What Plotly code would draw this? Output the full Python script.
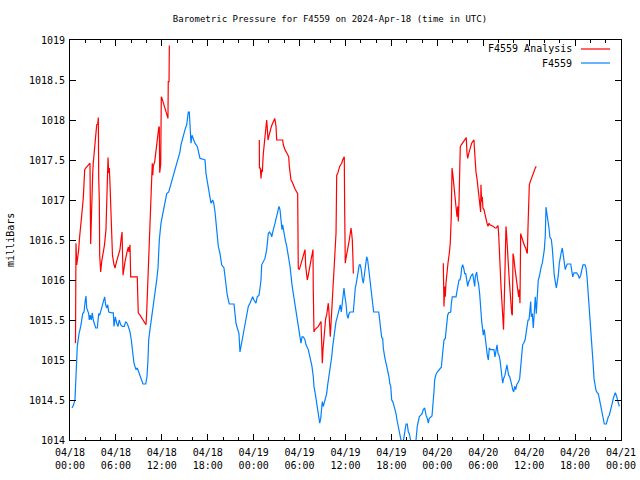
import plotly.graph_objects as go

# ---- F4559 station observations: hours since 2024-04-18 00:00 UTC, pressure in mb
blue_hours = [
    0.26, 0.43, 0.65, 0.78, 0.95, 1.18, 1.40, 1.66, 1.83, 2.00,
    2.09, 2.18, 2.31, 2.44, 2.52, 2.65, 2.78, 2.91, 3.04, 3.18,
    3.36, 3.57, 3.75, 3.88, 4.01, 4.22, 4.40, 4.53, 4.66, 4.80,
    4.93, 5.06, 5.45, 5.66, 5.75, 5.92, 6.10, 6.27, 6.44, 6.62,
    6.83, 7.10, 7.28, 7.45, 7.62, 7.84, 8.01, 8.19, 8.36, 8.62,
    8.79, 8.98, 9.15, 9.32, 9.54, 9.89, 10.06, 10.19, 10.28, 10.45,
    10.62, 10.85, 11.07, 11.33, 11.50, 11.67, 11.89, 12.11, 12.37, 12.64,
    12.90, 13.16, 13.42, 13.59, 13.81, 13.94, 14.15, 14.37, 14.50, 14.73,
    15.03, 15.25, 15.46, 15.59, 15.68, 15.81, 15.94, 16.07, 16.33, 16.63,
    16.82, 16.99, 17.42, 17.64, 17.77, 17.99, 18.16, 18.42, 18.65, 18.78,
    18.95, 19.08, 19.17, 19.38, 19.60, 19.82, 20.12, 20.25, 20.38, 20.55,
    20.74, 20.82, 21.43, 21.56, 21.69, 21.86, 22.08, 22.21, 22.34, 22.51,
    22.64, 22.87, 22.96, 23.09, 23.30, 23.52, 23.74, 23.87, 24.04, 24.30,
    24.47, 24.70, 24.83, 24.96, 25.05, 25.26, 25.48, 25.70, 25.78, 25.91,
    26.04, 26.23, 26.36, 26.49, 26.57, 26.79, 26.92, 27.09, 27.31, 27.44,
    27.57, 27.70, 27.79, 27.96, 28.13, 28.32, 28.45, 28.58, 28.75, 28.88,
    29.01, 29.18, 29.31, 29.44, 29.62, 29.75, 29.88, 30.05, 30.18, 30.32,
    30.49, 30.71, 30.84, 31.14, 31.32, 31.45, 31.62, 31.79, 31.88, 32.05,
    32.24, 32.37, 32.50, 32.63, 32.76, 32.84, 32.97, 33.10, 33.23, 33.36,
    33.54, 33.67, 33.80, 33.93, 34.07, 34.20, 34.33, 34.46, 34.63, 34.76,
    34.93, 35.06, 35.19, 35.32, 35.45, 35.54, 35.67, 35.80, 35.93, 36.06,
    36.20, 36.33, 36.46, 36.59, 37.02, 37.15, 37.28, 37.41, 37.54, 37.67,
    37.80, 37.93, 38.06, 38.19, 38.33, 38.46, 38.59, 38.77, 38.90, 39.03,
    39.16, 39.29, 39.42, 39.55, 39.68, 40.34, 40.47, 40.60, 40.73, 40.86,
    40.94, 41.12, 41.25, 41.38, 41.51, 41.68, 41.78, 41.91, 42.04, 42.17,
    42.30, 42.47, 42.60, 42.73, 42.86, 42.99, 43.12, 43.25, 43.55, 43.74,
    43.91, 44.07, 44.21, 44.34, 44.52, 45.08, 45.21, 45.38, 45.51, 45.64,
    45.83, 46.00, 46.17, 46.35, 46.52, 46.69, 46.82, 46.95, 47.30, 47.43,
    47.56, 47.65, 47.79, 47.99, 48.35, 48.52, 48.65, 48.74, 48.87, 49.04,
    49.13, 49.22, 49.35, 49.48, 49.75, 49.82, 49.95, 50.44, 50.53, 50.70,
    50.83, 50.96, 51.09, 51.18, 51.31, 51.44, 51.58, 51.71, 51.84, 51.97,
    52.10, 52.23, 52.36, 52.49, 52.62, 52.75, 52.88, 52.96, 53.14, 53.27,
    53.40, 53.53, 53.67, 53.80, 53.93, 54.01, 54.14, 54.23, 54.36, 54.53,
    54.66, 54.79, 54.97, 55.40, 55.53, 55.66, 55.80, 55.93, 56.06, 56.19,
    56.32, 56.45, 56.54, 56.67, 56.84, 56.97, 57.10, 57.19, 57.32, 57.46,
    57.59, 57.72, 57.85, 57.98, 58.11, 58.24, 58.37, 58.50, 58.63, 58.76,
    58.89, 59.02, 59.15, 59.28, 59.46, 59.59, 59.72, 59.85, 59.98, 60.11,
    60.20, 60.28, 60.41, 60.54, 60.67, 60.80, 60.93, 61.06, 61.19, 61.32,
    61.45, 61.58, 61.72, 61.85, 61.98, 62.11, 62.20, 62.29, 62.46, 62.59,
    62.72, 62.89, 63.02, 63.15, 63.28, 63.41, 63.55, 63.68, 63.81, 63.94,
    64.07, 64.20, 64.33, 64.46, 64.59, 64.72, 64.85, 64.98, 65.43, 65.56,
    65.69, 65.86, 66.21, 66.42, 66.55, 66.73, 66.86, 67.03, 67.30, 67.43,
    67.56, 67.69, 67.78, 67.86, 67.99, 68.12, 68.25, 68.38, 68.47, 68.60,
    68.73, 68.90, 69.03, 69.16, 69.29, 69.43, 69.56, 69.69, 69.82, 70.08,
    70.21, 70.34, 70.47, 70.60, 70.73, 70.86, 70.99, 71.12, 71.25, 71.38,
    71.52, 71.65, 71.78,
]
blue_mb = [
    1014.40, 1014.43, 1014.50, 1014.90, 1015.17, 1015.33, 1015.42, 1015.58, 1015.60, 1015.75,
    1015.80, 1015.65, 1015.60, 1015.58, 1015.50, 1015.56, 1015.50, 1015.59, 1015.50, 1015.46,
    1015.40, 1015.40, 1015.58, 1015.56, 1015.60, 1015.67, 1015.73, 1015.79, 1015.69, 1015.65,
    1015.69, 1015.60, 1015.59, 1015.59, 1015.42, 1015.54, 1015.46, 1015.42, 1015.50, 1015.44,
    1015.42, 1015.42, 1015.48, 1015.46, 1015.42, 1015.35, 1015.25, 1015.13, 1014.96, 1014.88,
    1014.90, 1014.85, 1014.81, 1014.75, 1014.70, 1014.70, 1014.79, 1015.00, 1015.25, 1015.38,
    1015.50, 1015.63, 1015.75, 1016.00, 1016.15, 1016.50, 1016.71, 1016.83, 1016.94, 1017.08,
    1017.10, 1017.19, 1017.25, 1017.33, 1017.38, 1017.44, 1017.50, 1017.60, 1017.69, 1017.79,
    1017.88, 1017.94, 1018.10, 1018.10, 1017.88, 1017.71, 1017.81, 1017.77, 1017.71, 1017.67,
    1017.60, 1017.52, 1017.51, 1017.50, 1017.33, 1017.21, 1017.08, 1016.96, 1017.00, 1016.96,
    1016.85, 1016.73, 1016.58, 1016.42, 1016.33, 1016.19, 1016.15, 1016.04, 1015.92, 1015.81,
    1015.73, 1015.70, 1015.70, 1015.56, 1015.46, 1015.40, 1015.33, 1015.10, 1015.17, 1015.25,
    1015.29, 1015.42, 1015.50, 1015.56, 1015.67, 1015.71, 1015.77, 1015.79, 1015.75, 1015.71,
    1015.79, 1015.81, 1015.90, 1016.00, 1016.19, 1016.23, 1016.27, 1016.38, 1016.46, 1016.58,
    1016.60, 1016.58, 1016.54, 1016.58, 1016.63, 1016.71, 1016.77, 1016.83, 1016.92, 1016.88,
    1016.71, 1016.63, 1016.69, 1016.58, 1016.50, 1016.42, 1016.31, 1016.27, 1016.17, 1016.00,
    1015.94, 1015.83, 1015.75, 1015.67, 1015.58, 1015.50, 1015.40, 1015.33, 1015.21, 1015.29,
    1015.29, 1015.25, 1015.19, 1015.13, 1015.06, 1015.00, 1014.92, 1014.79, 1014.67, 1014.58,
    1014.46, 1014.35, 1014.27, 1014.21, 1014.27, 1014.40, 1014.48, 1014.42, 1014.46, 1014.52,
    1014.58, 1014.69, 1014.77, 1014.83, 1014.92, 1015.04, 1015.17, 1015.29, 1015.40, 1015.48,
    1015.54, 1015.60, 1015.67, 1015.69, 1015.60, 1015.67, 1015.79, 1015.90, 1015.79, 1015.71,
    1015.56, 1015.52, 1015.58, 1015.60, 1015.60, 1015.79, 1015.90, 1015.96, 1016.04, 1016.15,
    1016.19, 1016.19, 1016.13, 1016.02, 1015.96, 1016.06, 1016.17, 1016.29, 1016.25, 1016.13,
    1016.04, 1015.96, 1015.83, 1015.71, 1015.60, 1015.60, 1015.46, 1015.35, 1015.28, 1015.27,
    1015.15, 1015.04, 1014.98, 1014.92, 1014.88, 1014.79, 1014.71, 1014.67, 1014.50, 1014.48,
    1014.44, 1014.38, 1014.33, 1014.25, 1014.19, 1014.13, 1014.06, 1014.00, 1013.98, 1014.10,
    1014.20, 1014.20, 1014.10, 1014.08, 1013.99, 1013.98, 1014.00, 1014.17, 1014.25, 1014.29,
    1014.31, 1014.33, 1014.38, 1014.40, 1014.31, 1014.27, 1014.21, 1014.27, 1014.30, 1014.42,
    1014.60, 1014.75, 1014.81, 1014.85, 1014.90, 1014.91, 1015.04, 1015.19, 1015.25, 1015.27,
    1015.38, 1015.42, 1015.56, 1015.59, 1015.60, 1015.69, 1015.79, 1015.79, 1015.85, 1015.94,
    1016.00, 1016.00, 1016.06, 1016.15, 1016.19, 1016.15, 1016.08, 1016.08, 1016.00, 1015.92,
    1015.98, 1016.00, 1016.04, 1016.06, 1016.08, 1016.00, 1015.92, 1016.04, 1016.10, 1016.00,
    1015.94, 1015.83, 1015.60, 1015.48, 1015.38, 1015.31, 1015.38, 1015.29, 1015.19, 1015.06,
    1015.00, 1015.15, 1015.13, 1015.13, 1015.04, 1015.13, 1015.19, 1015.08, 1015.06, 1015.00,
    1014.90, 1014.79, 1014.71, 1014.77, 1014.81, 1014.88, 1014.94, 1014.88, 1014.81, 1014.79,
    1014.75, 1014.69, 1014.63, 1014.60, 1014.67, 1014.63, 1014.69, 1014.71, 1014.73, 1014.77,
    1014.90, 1015.04, 1015.19, 1015.21, 1015.25, 1015.33, 1015.46, 1015.50, 1015.50, 1015.63,
    1015.73, 1015.54, 1015.58, 1015.40, 1015.65, 1015.79, 1015.58, 1015.81, 1016.00, 1016.04,
    1016.13, 1016.17, 1016.21, 1016.28, 1016.38, 1016.56, 1016.91, 1016.85, 1016.75, 1016.65,
    1016.53, 1016.51, 1016.40, 1016.21, 1016.06, 1015.98, 1015.90, 1015.98, 1016.06, 1016.21,
    1016.31, 1016.35, 1016.40, 1016.29, 1016.19, 1016.13, 1016.17, 1016.20, 1016.20, 1016.13,
    1016.04, 1016.09, 1016.09, 1016.06, 1016.02, 1016.06, 1016.13, 1016.19, 1016.19, 1016.15,
    1016.04, 1015.88, 1015.77, 1015.63, 1015.46, 1015.25, 1015.10, 1014.92, 1014.77, 1014.67,
    1014.62, 1014.59, 1014.58, 1014.52, 1014.46, 1014.38, 1014.29, 1014.23, 1014.20, 1014.20,
    1014.27, 1014.29, 1014.31, 1014.35, 1014.42, 1014.46, 1014.52, 1014.56, 1014.59, 1014.56,
    1014.52, 1014.48, 1014.42,
]

# ---- F4559 Analysis: three separate runs
red_hours_a = [
    0.72, 0.78, 0.88, 1.01, 1.14, 1.22, 1.40, 1.57, 1.66, 1.74,
    1.83, 1.92, 2.05, 2.26, 2.44, 2.61, 2.70, 2.78, 2.87, 2.97,
    3.04, 3.18, 3.31, 3.40, 3.49, 3.62, 3.70, 3.75, 3.83, 3.88,
    4.01, 4.14, 4.27, 4.35, 4.51, 4.70, 4.84, 4.97, 5.06, 5.14,
    5.23, 5.32, 5.40, 5.55, 5.75, 5.88, 6.08, 6.27, 6.53, 6.66,
    6.80, 6.93, 7.06, 7.19, 7.45, 7.62, 7.71, 7.84, 7.93, 8.79,
    8.85, 8.92, 9.15, 9.58, 9.93, 10.02, 10.15, 10.23, 10.36, 10.55,
    10.62, 10.67, 10.75, 10.82, 10.88, 11.07, 11.20, 11.28, 11.37, 11.50,
    11.59, 11.67, 11.72, 11.85, 11.93, 12.02, 12.15, 12.28, 12.41, 12.54,
    12.67, 12.80, 12.84, 12.94, 12.98,
]
red_mb_a = [
    1015.21, 1016.46, 1016.19, 1016.28, 1016.38, 1016.50, 1016.65, 1016.84, 1016.94, 1017.03,
    1017.25, 1017.38, 1017.40, 1017.42, 1017.44, 1017.46, 1016.45, 1016.81, 1017.00, 1017.34,
    1017.46, 1017.59, 1017.71, 1017.84, 1017.94, 1017.95, 1018.03, 1017.28, 1017.00, 1016.31,
    1016.10, 1016.23, 1016.30, 1016.38, 1016.44, 1016.63, 1017.13, 1017.53, 1017.34, 1017.40,
    1017.19, 1017.00, 1016.63, 1016.31, 1016.19, 1016.15, 1016.23, 1016.31, 1016.38, 1016.50,
    1016.60, 1016.06, 1016.15, 1016.23, 1016.35, 1016.41, 1016.35, 1016.44, 1016.04, 1016.04,
    1015.81, 1015.59, 1015.56, 1015.50, 1015.44, 1015.59, 1015.91, 1016.28, 1016.59, 1016.85,
    1017.00, 1017.31, 1017.46, 1017.31, 1017.42, 1017.48, 1017.58, 1017.67, 1017.77, 1017.83,
    1017.90, 1017.92, 1017.34, 1017.44, 1018.29, 1018.27, 1018.23, 1018.19, 1018.15, 1018.10,
    1018.06, 1018.02, 1018.48, 1018.48, 1018.93,
]
red_hours_b = [
    24.74, 24.75, 24.87, 24.96, 25.05, 25.13, 25.26, 25.39, 25.52, 25.61,
    25.70, 25.78, 25.87, 25.96, 26.04, 26.13, 26.26, 26.40, 26.53, 26.66,
    26.75, 26.83, 26.92, 27.01, 27.79, 27.87, 28.00, 28.13, 28.32, 28.45,
    28.58, 28.66, 28.75, 28.88, 29.01, 29.10, 29.27, 29.44, 29.62, 29.75,
    29.83, 29.96, 30.15, 30.32, 30.49, 30.62, 30.71, 30.80, 30.93, 31.01,
    31.14, 31.27, 31.40, 31.53, 31.66, 31.75, 31.79, 31.88, 32.01, 32.24,
    32.45, 32.67, 32.80, 32.89, 32.97, 33.06, 33.15, 33.23, 33.32, 33.41,
    33.54, 33.67, 33.75, 33.84, 33.93, 34.01, 34.11, 34.24, 34.37, 34.41,
    34.54, 34.67, 34.76, 34.80, 34.85, 34.98, 35.11, 35.24, 35.37, 35.50,
    35.63, 35.76, 35.84, 35.89, 35.93, 35.97, 36.06, 36.20, 36.33, 36.46,
    36.59, 36.72, 36.81, 36.89, 36.98, 37.02,
]
red_mb_b = [
    1017.75, 1017.40, 1017.40, 1017.27, 1017.38, 1017.35, 1017.58, 1017.71, 1017.83, 1017.94,
    1018.00, 1017.90, 1017.75, 1017.79, 1017.83, 1017.88, 1017.90, 1017.94, 1017.98, 1018.00,
    1018.02, 1017.98, 1017.92, 1017.75, 1017.75, 1017.69, 1017.65, 1017.62, 1017.59, 1017.56,
    1017.54, 1017.42, 1017.31, 1017.25, 1017.23, 1017.20, 1017.17, 1017.13, 1017.10, 1017.08,
    1016.15, 1016.13, 1016.19, 1016.25, 1016.31, 1016.35, 1016.38, 1016.17, 1016.04, 1016.00,
    1016.06, 1016.15, 1016.21, 1016.27, 1016.33, 1016.38, 1015.88, 1015.35, 1015.38, 1015.40,
    1015.42, 1015.46, 1015.48, 1015.21, 1014.96, 1015.13, 1015.25, 1015.38, 1015.48, 1015.52,
    1015.56, 1015.65, 1015.71, 1015.60, 1015.48, 1015.29, 1015.46, 1015.67, 1015.88, 1016.01,
    1016.21, 1016.42, 1016.58, 1016.88, 1017.31, 1017.33, 1017.38, 1017.42, 1017.44, 1017.46,
    1017.50, 1017.52, 1017.54, 1016.90, 1016.38, 1016.21, 1016.27, 1016.33, 1016.42, 1016.48,
    1016.56, 1016.65, 1016.58, 1016.50, 1016.25, 1016.08,
]
red_hours_c = [
    48.78, 48.79, 48.87, 48.96, 49.04, 49.13, 49.22, 49.39, 49.56, 49.69,
    49.82, 49.92, 50.01, 50.08, 50.18, 50.31, 50.44, 50.57, 50.66, 50.74,
    50.83, 50.92, 51.00, 51.13, 51.26, 51.39, 51.52, 51.65, 51.78, 51.88,
    51.97, 52.10, 52.23, 52.36, 52.49, 52.62, 52.79, 52.83, 52.92, 53.05,
    53.18, 53.31, 53.40, 53.48, 53.57, 53.66, 53.70, 53.79, 53.87, 53.96,
    54.09, 54.23, 54.36, 54.49, 54.62, 54.75, 54.88, 55.10, 55.31, 55.53,
    55.70, 55.84, 55.93, 56.02, 56.10, 56.19, 56.32, 56.45, 56.54, 56.65,
    56.75, 56.88, 56.97, 57.06, 57.14, 57.27, 57.40, 57.49, 57.59, 57.72,
    57.80, 57.89, 57.98, 58.11, 58.24, 58.37, 58.50, 58.63, 58.71, 58.80,
    58.89, 58.97, 59.06, 59.15, 59.28, 59.42, 59.55, 59.68, 59.76, 59.85,
    59.94, 60.02, 60.15, 60.28, 60.41, 60.54, 60.67, 60.80, 60.93,
]
red_mb_c = [
    1016.21, 1015.94, 1015.67, 1015.92, 1015.79, 1015.96, 1016.08, 1016.21, 1016.33, 1016.46,
    1016.79, 1017.40, 1017.33, 1017.25, 1017.13, 1017.00, 1016.90, 1016.79, 1016.92, 1016.73,
    1016.96, 1017.42, 1017.67, 1017.69, 1017.71, 1017.73, 1017.75, 1017.77, 1017.78, 1017.58,
    1017.52, 1017.58, 1017.63, 1017.67, 1017.71, 1017.73, 1017.75, 1017.67, 1017.48, 1017.35,
    1017.27, 1017.17, 1017.08, 1017.00, 1016.92, 1016.85, 1017.19, 1016.98, 1017.04, 1016.90,
    1016.88, 1016.81, 1016.77, 1016.71, 1016.67, 1016.71, 1016.69, 1016.68, 1016.67, 1016.65,
    1016.65, 1016.67, 1016.68, 1016.56, 1016.33, 1016.17, 1015.92, 1015.71, 1015.50, 1015.38,
    1015.75, 1016.38, 1016.67, 1016.56, 1016.33, 1016.21, 1016.00, 1015.83, 1015.67, 1015.58,
    1015.56, 1016.33, 1016.29, 1016.17, 1016.08, 1016.00, 1015.92, 1015.79, 1015.88, 1015.71,
    1016.58, 1016.56, 1016.54, 1016.50, 1016.46, 1016.42, 1016.40, 1016.35, 1016.33, 1016.67,
    1016.96, 1017.19, 1017.23, 1017.27, 1017.31, 1017.35, 1017.38, 1017.40, 1017.42,
]

x_tick_hours = [0, 6, 12, 18, 24, 30, 36, 42, 48, 54, 60, 66, 72]
x_tick_labels = ["04/18<br>00:00", "04/18<br>06:00", "04/18<br>12:00", "04/18<br>18:00",
                 "04/19<br>00:00", "04/19<br>06:00", "04/19<br>12:00", "04/19<br>18:00",
                 "04/20<br>00:00", "04/20<br>06:00", "04/20<br>12:00", "04/20<br>18:00",
                 "04/21<br>00:00"]
y_tick_values = [1014, 1014.5, 1015, 1015.5, 1016, 1016.5, 1017, 1017.5, 1018, 1018.5, 1019]
y_tick_labels = ["1014", "1014.5", "1015", "1015.5", "1016", "1016.5",
                 "1017", "1017.5", "1018", "1018.5", "1019"]

series_names = ["F4559 Analysis", "F4559"]
series_colors = ["#ff0000", "#0080ff"]

FONT = "DejaVu Sans Mono"
FIG_W, FIG_H = 640, 480

red_hours = red_hours_a + [None] + red_hours_b + [None] + red_hours_c
red_mb = red_mb_a + [None] + red_mb_b + [None] + red_mb_c

fig = go.Figure()
fig.add_trace(go.Scatter(x=red_hours, y=red_mb, mode="lines", name=series_names[0],
                         line=dict(color=series_colors[0], width=1.2), connectgaps=False,
                         showlegend=False, hoverinfo="skip"))
fig.add_trace(go.Scatter(x=blue_hours, y=blue_mb, mode="lines", name=series_names[1],
                         line=dict(color=series_colors[1], width=1.2), showlegend=False,
                         hoverinfo="skip"))

axis_common = dict(showline=True, linecolor="black", linewidth=1, mirror="allticks",
                   ticks="inside", ticklen=6, tickcolor="black", tickwidth=1,
                   showgrid=False, zeroline=False, automargin=False,
                   tickfont=dict(family=FONT, size=10, color="black"))

fig.update_xaxes(range=[0, 72], tickmode="array", tickvals=x_tick_hours, ticktext=x_tick_labels,
                 ticklabelstandoff=3,
                 minor=dict(ticks="inside", ticklen=3, tickcolor="black", tickmode="linear",
                            tick0=0, dtick=2, showgrid=False),
                 **axis_common)
fig.update_yaxes(range=[1014, 1019], tickmode="array", tickvals=y_tick_values,
                 ticktext=y_tick_labels, ticklabelstandoff=2, **axis_common)

# legend drawn gnuplot-style: right-aligned text followed by a line sample
legend_rows = [0.9775, 0.9425]
annotations = []
shapes = []
for name, color, yy in zip(series_names, series_colors, legend_rows):
    annotations.append(dict(xref="paper", yref="paper", x=0.9147, y=yy, text=name,
                            showarrow=False, xanchor="right", yanchor="middle",
                            font=dict(family=FONT, size=10, color="black")))
    shapes.append(dict(type="line", xref="paper", yref="paper", x0=0.9274, x1=0.98,
                       y0=yy, y1=yy, line=dict(color=color, width=1.2)))

annotations.append(dict(xref="paper", yref="paper", x=-0.109, y=0.5, text="milliBars",
                        textangle=-90, showarrow=False, xanchor="center", yanchor="middle",
                        font=dict(family=FONT, size=10, color="black")))

fig.update_layout(
    width=FIG_W, height=FIG_H,
    margin=dict(l=70, r=19, t=40, b=40, autoexpand=False),
    paper_bgcolor="white", plot_bgcolor="white",
    hovermode=False,
    title=dict(text="Barometric Pressure for F4559 on 2024-Apr-18 (time in UTC)",
               xref="container", x=330 / FIG_W, xanchor="center",
               yref="container", y=1 - 19 / FIG_H, yanchor="middle",
               font=dict(family=FONT, size=9, color="black"), automargin=False),
    annotations=annotations, shapes=shapes,
)

# remove the browser's default page margin so the figure starts at the window corner
fig.write_html("out.html",
               config={"displayModeBar": False, "staticPlot": True},
               post_script="document.body.style.margin='0';document.body.style.overflow='hidden';")
